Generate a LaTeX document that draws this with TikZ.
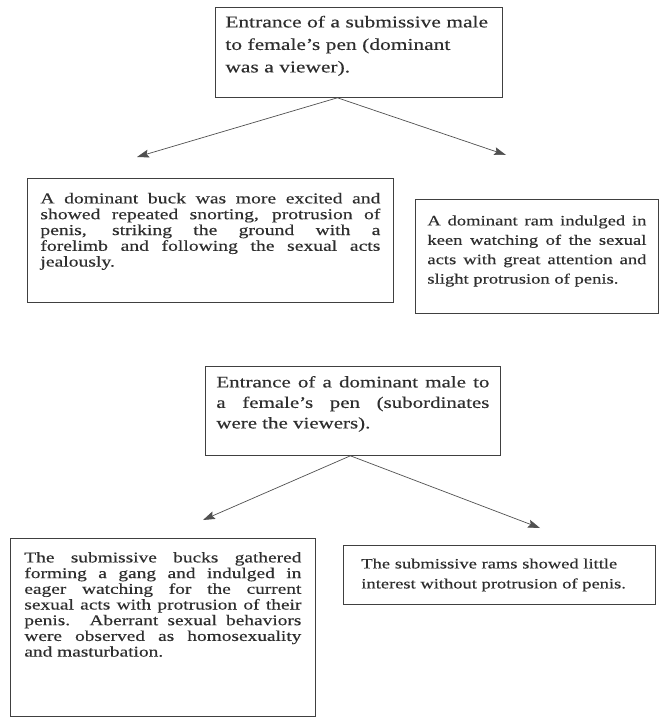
\documentclass[tikz,border=0pt]{standalone}
\usepackage{fontspec}
\setmainfont[FakeStretch=1.3, FakeBold=0.3]{Liberation Serif}
\usetikzlibrary{arrows.meta}
\definecolor{inkgray}{HTML}{2E2E2E}
\definecolor{framegray}{HTML}{404040}
\definecolor{linegray}{HTML}{505050}
\tolerance=10000
\hbadness=10000

\begin{document}
\begin{tikzpicture}[x=1pt, y=-1pt,
  notebox/.style={draw=framegray, line width=0.8pt, anchor=north west, inner ysep=0pt, text=inkgray},
  pointer/.style={draw=linegray, line width=0.7pt, -{Stealth[length=12pt, width=8pt, inset=2pt]}}]
  \useasboundingbox[fill=white] (0,0) rectangle (659,722);

  % Upper case: a submissive male enters, the dominant one watches
  \node[notebox, text width=267pt, inner xsep=10pt, text height=20pt, text depth=70pt, align=left,
        font=\fontsize{16.5}{22.5}\selectfont] (subEntry) at (215,7)
    {Entrance of a submissive male\\ to female’s pen (dominant\\ was a viewer).};

  \node[notebox, text width=340pt, inner xsep=13pt, text height=25pt, text depth=99pt, align=justify,
        font=\fontsize{15.1}{15.8}\selectfont] (buckDom) at (27,178)
    {A dominant buck was more excited and\linebreak showed repeated snorting, protrusion of\linebreak
     penis, striking the ground with a\linebreak forelimb and following the sexual acts\linebreak jealously.};

  \node[notebox, text width=219pt, inner xsep=12pt, text height=26pt, text depth=88pt, align=justify,
        font=\fontsize{14.3}{19.4}\selectfont] (ramDom) at (415,199)
    {A dominant ram indulged in\linebreak keen watching of the sexual\linebreak
     acts with great attention and\linebreak slight protrusion of penis.};

  % Lower case: a dominant male enters, the subordinates watch
  \node[notebox, text width=273pt, inner xsep=11pt, text height=21pt, text depth=68pt, align=justify,
        font=\fontsize{16.1}{20.5}\selectfont] (domEntry) at (205,366)
    {Entrance of a dominant male to\linebreak a female’s pen (subordinates\linebreak were the viewers).};

  \node[notebox, text width=277pt, inner xsep=14pt, text height=24pt, text depth=154pt, align=justify,
        font=\fontsize{14.9}{15.7}\selectfont] (buckSub) at (10,538)
    {The submissive bucks gathered\linebreak forming a gang and indulged in\linebreak
     eager watching for the current\linebreak sexual acts with protrusion of their\linebreak
     penis. Aberrant sexual behaviors\linebreak were observed as homosexuality\linebreak and masturbation.};

  \node[notebox, text width=276pt, inner xsep=18pt, text height=23pt, text depth=36pt, align=left,
        font=\fontsize{14.2}{20}\selectfont] (ramSub) at (343,545)
    {The submissive rams showed little\\ interest without protrusion of penis.};

  % Forks from each entrance to its two reactions
  \coordinate (forkUp) at ([xshift=-21.5pt]subEntry.south);
  \coordinate (tipBuckDom) at (137,157);
  \coordinate (tipRamDom) at (506,155);
  \draw[pointer] (forkUp) -- (tipBuckDom);
  \draw[pointer] (forkUp) -- (tipRamDom);

  \coordinate (forkDown) at ([xshift=-2.5pt]domEntry.south);
  \coordinate (tipBuckSub) at (203,520);
  \coordinate (tipRamSub) at (540,528);
  \draw[pointer] (forkDown) -- (tipBuckSub);
  \draw[pointer] (forkDown) -- (tipRamSub);
\end{tikzpicture}
\end{document}
